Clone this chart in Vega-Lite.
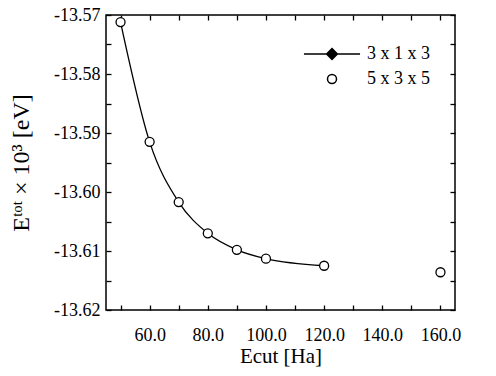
{
  "$schema": "https://vega.github.io/schema/vega-lite/v6.json",
  "autosize": "none",
  "width": 349,
  "height": 295,
  "padding": {"left": 106, "top": 15, "right": 41, "bottom": 66},
  "background": "white",
  "data": {"values": [
    {"series": "3 x 1 x 3", "Ecut": 50, "E": -13.5712},
    {"series": "3 x 1 x 3", "Ecut": 60, "E": -13.5915},
    {"series": "3 x 1 x 3", "Ecut": 70, "E": -13.6017},
    {"series": "3 x 1 x 3", "Ecut": 80, "E": -13.6070},
    {"series": "3 x 1 x 3", "Ecut": 90, "E": -13.6098},
    {"series": "3 x 1 x 3", "Ecut": 100, "E": -13.6113},
    {"series": "3 x 1 x 3", "Ecut": 120, "E": -13.6125},
    {"series": "5 x 3 x 5", "Ecut": 50, "E": -13.5712},
    {"series": "5 x 3 x 5", "Ecut": 60, "E": -13.5915},
    {"series": "5 x 3 x 5", "Ecut": 70, "E": -13.6017},
    {"series": "5 x 3 x 5", "Ecut": 80, "E": -13.6070},
    {"series": "5 x 3 x 5", "Ecut": 90, "E": -13.6098},
    {"series": "5 x 3 x 5", "Ecut": 100, "E": -13.6113},
    {"series": "5 x 3 x 5", "Ecut": 120, "E": -13.6125},
    {"series": "5 x 3 x 5", "Ecut": 160, "E": -13.6136}
  ]},
  "layer": [
    {
      "transform": [{"filter": "datum.series === '3 x 1 x 3'"}],
      "mark": {"type": "line", "interpolate": "monotone", "color": "black", "strokeWidth": 1.3},
      "encoding": {
        "x": {"field": "Ecut", "type": "quantitative",
          "scale": {"domain": [45, 165], "nice": false, "zero": false},
          "axis": {"orient": "bottom", "offset": -5, "domain": false, "values": [50,60,70,80,90,100,110,120,130,140,150,160],
            "tickSize": 5, "labelPadding": 16,
            "labelExpr": "datum.value % 20 == 0 ? format(datum.value, '.1f') : ''",
            "title": "Ecut [Ha]", "titleFontSize": 21, "titlePadding": 1}},
        "y": {"field": "E", "type": "quantitative",
          "scale": {"domain": [-13.62, -13.57], "nice": false, "zero": false},
          "axis": {"orient": "left", "offset": -5, "domain": false, "values": [-13.62,-13.615,-13.61,-13.605,-13.6,-13.595,-13.59,-13.585,-13.58,-13.575,-13.57],
            "tickSize": 5, "labelPadding": 6,
            "labelExpr": "abs(round(datum.value*1000)) % 10 == 0 ? replace(format(datum.value, '.2f'), '−', '-') : ''",
            "title": "Eᵗᵒᵗ × 10³ [eV]", "titleFontSize": 24, "titlePadding": 20}}
      }
    },
    {
      "transform": [{"filter": "datum.series === '5 x 3 x 5'"}],
      "mark": {"type": "point", "filled": true, "opacity": 1, "size": 900, "strokeWidth": 1.3},
      "encoding": {
        "x": {"field": "Ecut", "type": "quantitative",
          "axis": {"orient": "top", "offset": -5, "domain": false, "values": [50,60,70,80,90,100,110,120,130,140,150,160], "tickSize": 5, "labels": false, "title": null}},
        "y": {"field": "E", "type": "quantitative",
          "axis": {"orient": "right", "offset": -5, "domain": false, "values": [-13.62,-13.615,-13.61,-13.605,-13.6,-13.595,-13.59,-13.585,-13.58,-13.575,-13.57], "tickSize": 5, "labels": false, "title": null}},
        "stroke": {"value": "black"},
        "shape": {"field": "series", "type": "nominal",
          "scale": {"domain": ["3 x 1 x 3", "5 x 3 x 5"],
            "range": ["M-1.87,0H1.87M0,-0.36L0.36,0L0,0.36L-0.36,0Z", "M0.3,0A0.3,0.3 0 1 1 -0.3,0A0.3,0.3 0 1 1 0.3,0Z"]},
          "legend": {"title": null, "orient": "none", "legendX": 210, "legendY": 23, "symbolSize": 900, "rowPadding": -2, "labelOffset": 19,
            "encode": {"symbols": {"update": {"stroke": {"value": "black"}, "strokeWidth": {"value": 1.3}, "opacity": {"value": 1}}}}}},
        "fill": {"field": "series", "type": "nominal",
          "scale": {"domain": ["3 x 1 x 3", "5 x 3 x 5"], "range": ["black", "white"]},
          "legend": {"title": null}}
      }
    }
  ],
  "config": {
    "view": {"stroke": "black", "strokeWidth": 1.5},
    "axis": {
      "grid": false, "domainColor": "black", "domainWidth": 1.5,
      "tickColor": "black", "tickWidth": 1.3,
      "labelFont": "Liberation Serif", "labelFontSize": 18, "labelColor": "black",
      "titleFont": "Liberation Serif", "titleFontWeight": "normal", "titleColor": "black"
    },
    "legend": {"labelFont": "Liberation Serif", "labelFontSize": 18, "labelColor": "black"}
  }
}
